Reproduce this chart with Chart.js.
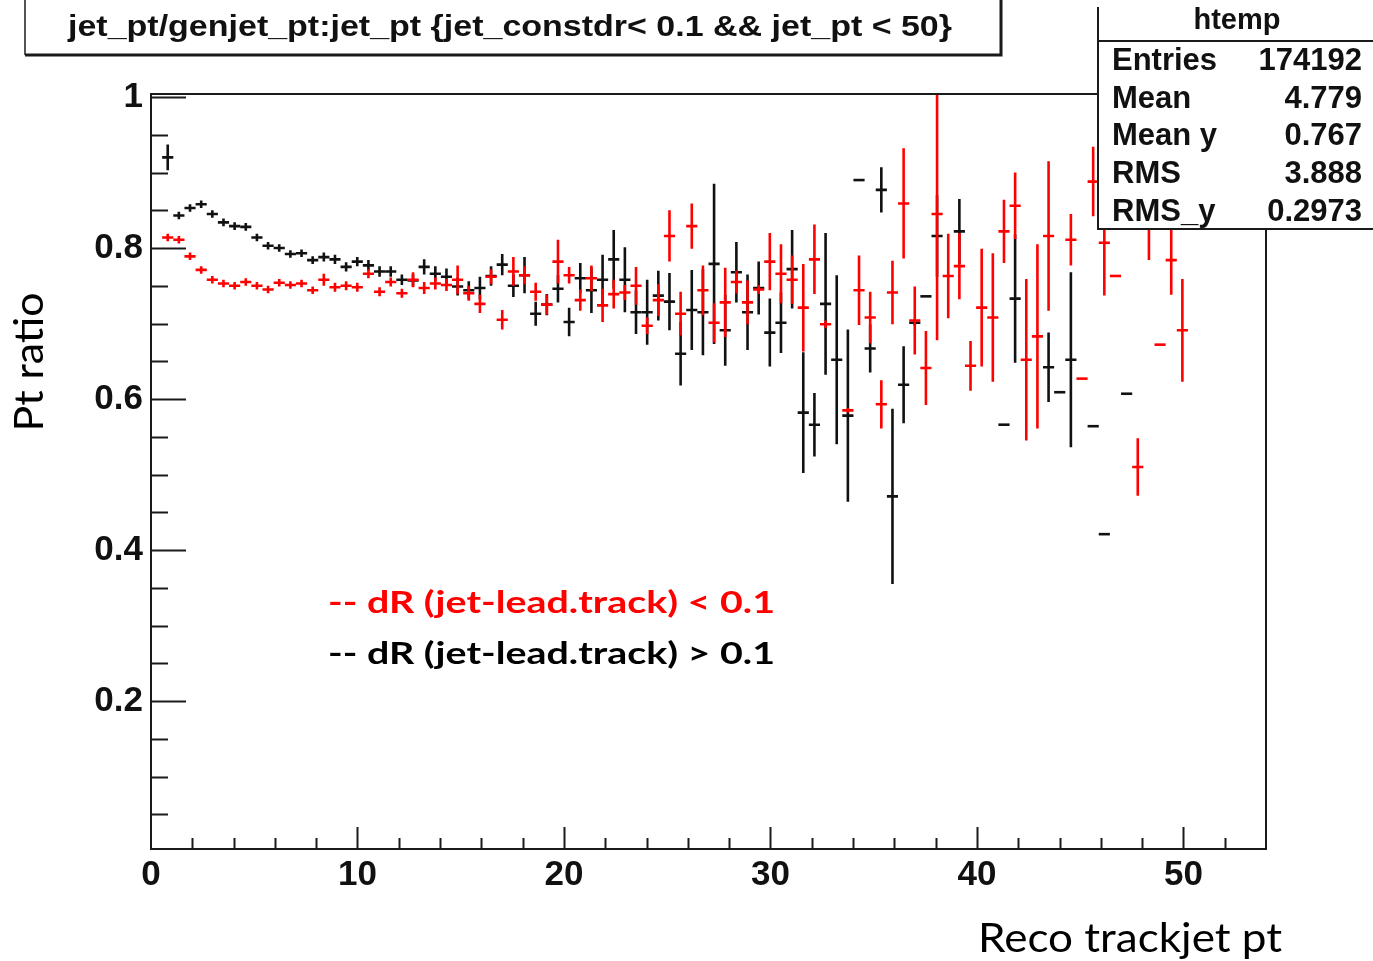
<!DOCTYPE html>
<html>
<head>
<meta charset="utf-8">
<script src="https://cdn.jsdelivr.net/npm/chart.js@4.4.1/dist/chart.umd.min.js"></script>
<style>
  html, body { margin: 0; padding: 0; background: #fff; }
  #wrap { width: 1373px; height: 961px; }
</style>
</head>
<body>
<div id="wrap"><canvas id="myChart" width="1373" height="961"></canvas></div>
<script>
// histogram binning of htemp (100 bins over 0..54), only bins up to jet_pt < 50 are filled
const nBins = 100;
const xLow = 0;
const xHigh = 54;

const xTickLabels = [0, 10, 20, 30, 40, 50];
const yTickLabels = [0.2, 0.4, 0.6, 0.8, 1];

// dR(jet-lead.track) > 0.1  (black)
const blackY = [
  null, 0.920, 0.843, 0.853, 0.858, 0.845, 0.834, 0.829, 0.828, 0.814,
  0.803, 0.800, 0.792, 0.793, 0.784, 0.788, 0.785, 0.775, 0.782, 0.777,
  0.769, 0.769, 0.758, 0.757, 0.775, 0.766, 0.762, 0.749, 0.744, 0.747,
  0.763, 0.778, 0.750, 0.764, 0.713, 0.725, 0.746, 0.702, 0.760, 0.744,
  0.758, 0.785, 0.758, 0.715, 0.715, 0.737, 0.729, 0.660, 0.718, 0.715,
  0.779, 0.691, 0.768, 0.715, 0.747, 0.688, 0.701, 0.772, 0.582, 0.566,
  0.726, 0.652, 0.578, 0.890, 0.667, 0.877, 0.471, 0.619, 0.701, 0.736,
  0.816, null, 0.822, null, null, null, 0.566, 0.733, null, null,
  0.642, 0.609, 0.652, null, 0.564, 0.421, null, 0.607, null, null,
  null, null, null
];
const blackErr = [
  0, 0.017, 0.005, 0.005, 0.005, 0.005, 0.005, 0.005, 0.005, 0.005,
  0.005, 0.005, 0.005, 0.005, 0.005, 0.006, 0.006, 0.006, 0.006, 0.007,
  0.007, 0.007, 0.007, 0.008, 0.010, 0.010, 0.011, 0.012, 0.012, 0.015,
  0.013, 0.014, 0.015, 0.024, 0.016, 0.014, 0.018, 0.019, 0.020, 0.030,
  0.033, 0.039, 0.043, 0.029, 0.043, 0.033, 0.038, 0.042, 0.053, 0.057,
  0.106, 0.047, 0.040, 0.050, 0.035, 0.045, 0.040, 0.052, 0.080, 0.042,
  0.094, 0.112, 0.114, 0, 0.032, 0.030, 0.116, 0.051, 0.004, 0,
  0.054, 0, 0.043, 0, 0, 0, 0, 0.085, 0, 0,
  0.046, 0, 0.116, 0, 0, 0, 0, 0, 0, 0,
  0, 0, 0
];

// dR(jet-lead.track) < 0.1  (red)
const redY = [
  null, 0.814, 0.811, 0.789, 0.771, 0.758, 0.753, 0.750, 0.755, 0.750,
  0.745, 0.754, 0.751, 0.753, 0.744, 0.758, 0.748, 0.750, 0.748, 0.766,
  0.742, 0.755, 0.740, 0.758, 0.747, 0.753, 0.751, 0.758, 0.740, 0.726,
  0.762, 0.705, 0.769, 0.764, 0.742, 0.725, 0.782, 0.764, 0.731, 0.760,
  0.724, 0.739, 0.741, 0.750, 0.697, 0.731, 0.816, 0.713, 0.829, 0.744,
  0.701, 0.728, 0.755, 0.728, 0.745, 0.782, 0.766, 0.758, 0.721, 0.785,
  0.699, null, 0.585, 0.744, 0.708, 0.593, 0.741, 0.859, 0.704, 0.641,
  0.845, 0.763, 0.776, 0.644, 0.721, 0.708, 0.822, 0.856, 0.652, 0.683,
  0.816, null, 0.811, 0.627, 0.888, 0.807, 0.763, null, 0.510, 0.850,
  0.672, 0.784, 0.691
];
const redErr = [
  0, 0.005, 0.005, 0.005, 0.005, 0.005, 0.005, 0.005, 0.005, 0.005,
  0.005, 0.005, 0.005, 0.005, 0.005, 0.008, 0.006, 0.006, 0.006, 0.006,
  0.006, 0.006, 0.006, 0.010, 0.008, 0.008, 0.008, 0.019, 0.010, 0.012,
  0.010, 0.013, 0.019, 0.012, 0.012, 0.013, 0.029, 0.011, 0.014, 0.017,
  0.022, 0.019, 0.010, 0.025, 0.011, 0.021, 0.034, 0.029, 0.030, 0.033,
  0.026, 0.046, 0.015, 0.029, 0.006, 0.038, 0.039, 0.032, 0.058, 0.046,
  0.005, 0, 0.003, 0.046, 0.034, 0.032, 0.042, 0.073, 0.045, 0.049,
  0.167, 0.056, 0.044, 0.033, 0.078, 0.085, 0.042, 0.044, 0.107, 0.122,
  0.099, 0, 0.034, 0, 0.046, 0.070, 0, 0, 0.038, 0.066,
  0, 0.046, 0.068
];

const titleText = 'jet_pt/genjet_pt:jet_pt {jet_constdr< 0.1 && jet_pt < 50}';
const statLabels = ['Entries', 'Mean', 'Mean y', 'RMS', 'RMS_y'];
const statValues = ['174192', '4.779', '0.767', '3.888', '0.2973'];
const legendRed = '-- dR (jet-lead.track) < 0.1';
const legendBlack = '-- dR (jet-lead.track) > 0.1';

const binW = (xHigh - xLow) / nBins;
const toPoints = (ys, errs) => ys
  .map((y, k) => y === null ? null : { x: xLow + (k + 0.5) * binW, y: y, err: errs[k] })
  .filter(p => p !== null);

const fitText = (ctx, text, x, y, width, align) => {
  const w = ctx.measureText(text).width;
  ctx.save();
  ctx.translate(x, y);
  ctx.scale(width / w, 1);
  ctx.textAlign = align;
  ctx.fillText(text, 0, 0);
  ctx.restore();
};

// ROOT style error bars: horizontal = bin width, vertical = error
const errorBars = {
  id: 'errorBars',
  afterDatasetsDraw(chart) {
    const { ctx, chartArea: a, scales: { x, y } } = chart;
    ctx.save();
    ctx.beginPath();
    ctx.rect(a.left, a.top, a.right - a.left, a.bottom - a.top);
    ctx.clip();
    ctx.lineWidth = 2.6;
    chart.data.datasets.forEach(ds => {
      ctx.strokeStyle = ds.borderColor;
      ds.data.forEach(p => {
        const px = x.getPixelForValue(p.x);
        const py = y.getPixelForValue(p.y);
        ctx.beginPath();
        ctx.moveTo(x.getPixelForValue(p.x - binW / 2), py);
        ctx.lineTo(x.getPixelForValue(p.x + binW / 2), py);
        if (p.err > 0) {
          ctx.moveTo(px, y.getPixelForValue(p.y + p.err));
          ctx.lineTo(px, y.getPixelForValue(p.y - p.err));
        }
        ctx.stroke();
      });
    });
    ctx.restore();
  }
};

const rootFrame = {
  id: 'rootFrame',
  beforeDraw(chart) {
    const ctx = chart.ctx;
    ctx.save();
    ctx.fillStyle = '#fff';
    ctx.fillRect(0, 0, chart.width, chart.height);
    ctx.restore();
  },
  afterDraw(chart) {
    const { ctx, chartArea: a, scales: { x, y } } = chart;
    ctx.save();
    ctx.strokeStyle = '#1a1a1a';
    ctx.lineWidth = 2;
    ctx.strokeRect(a.left, a.top, a.right - a.left, a.bottom - a.top);

    // inward ticks
    ctx.beginPath();
    for (let i = 1; i <= 20; i++) {
      const py = Math.round(y.getPixelForValue(i * 0.05)) + 0.5;
      const len = i % 4 === 0 ? 35 : 17;
      ctx.moveTo(a.left, py);
      ctx.lineTo(a.left + len, py);
    }
    for (let i = 1; i <= 26; i++) {
      const px = Math.round(x.getPixelForValue(i * 2)) + 0.5;
      const len = i % 5 === 0 ? 22 : 11;
      ctx.moveTo(px, a.bottom);
      ctx.lineTo(px, a.bottom - len);
    }
    ctx.stroke();

    // title box
    ctx.fillStyle = '#fff';
    ctx.fillRect(25, 0, 976, 55);
    ctx.lineWidth = 1.5;
    ctx.beginPath();
    ctx.moveTo(25, 0); ctx.lineTo(25, 55);
    ctx.stroke();
    ctx.lineWidth = 3;
    ctx.beginPath();
    ctx.moveTo(25, 55); ctx.lineTo(1001, 55); ctx.lineTo(1001, 0);
    ctx.stroke();
    ctx.fillStyle = '#111';
    ctx.font = 'bold 30px "Liberation Sans"';
    ctx.textBaseline = 'middle';
    fitText(ctx, titleText, 510, 28, 884, 'center');

    // stats box
    ctx.fillStyle = '#fff';
    ctx.fillRect(1098, 7, 275, 222);
    ctx.lineWidth = 2;
    ctx.beginPath();
    ctx.moveTo(1098, 7); ctx.lineTo(1098, 229); ctx.lineTo(1373, 229);
    ctx.moveTo(1098, 41); ctx.lineTo(1373, 41);
    ctx.stroke();
    ctx.fillStyle = '#111';
    ctx.font = 'bold 29px "Liberation Sans"';
    ctx.textAlign = 'center';
    ctx.fillText('htemp', 1237, 21);
    ctx.font = 'bold 31px "Liberation Sans"';
    const rowY = [61, 99, 136, 174, 212];
    statLabels.forEach((lab, i) => {
      ctx.textAlign = 'left';
      ctx.fillText(lab, 1112, rowY[i]);
      ctx.textAlign = 'right';
      ctx.fillText(statValues[i], 1362, rowY[i]);
    });

    // legend texts
    ctx.textBaseline = 'alphabetic';
    ctx.font = 'bold 31px Lato';
    ctx.fillStyle = '#ff0000';
    fitText(ctx, legendRed, 328, 613, 447, 'left');
    ctx.fillStyle = '#000';
    fitText(ctx, legendBlack, 328, 664, 447, 'left');

    // axis titles
    ctx.font = '40px Lato';
    ctx.fillStyle = '#000';
    fitText(ctx, 'Reco trackjet pt', 978, 952, 304, 'left');
    ctx.save();
    ctx.translate(43, 362);
    ctx.rotate(-Math.PI / 2);
    fitText(ctx, 'Pt ratio', 0, 0, 139, 'center');
    ctx.restore();
    ctx.restore();
  }
};

const tickFont = { family: 'Liberation Sans', size: 35, weight: 'bold' };

new Chart('myChart', {
  type: 'scatter',
  data: {
    datasets: [
      { label: 'dR > 0.1', data: toPoints(blackY, blackErr), borderColor: '#111111', pointRadius: 0, showLine: false },
      { label: 'dR < 0.1', data: toPoints(redY, redErr), borderColor: '#ff0000', pointRadius: 0, showLine: false }
    ]
  },
  options: {
    responsive: false,
    devicePixelRatio: 1,
    animation: false,
    events: [],
    layout: { padding: { top: 94, right: 107, left: 0, bottom: 0 } },
    plugins: { legend: { display: false }, tooltip: { enabled: false } },
    scales: {
      x: {
        type: 'linear', min: xLow, max: xHigh,
        grid: { display: false }, border: { display: false },
        afterBuildTicks: s => { s.ticks = xTickLabels.map(v => ({ value: v })); },
        afterFit: s => { s.height = 112; },
        ticks: { font: tickFont, color: '#111', padding: -3, maxRotation: 0, autoSkip: false }
      },
      y: {
        type: 'linear', min: 0.004, max: 1.004,
        grid: { display: false }, border: { display: false },
        afterBuildTicks: s => { s.ticks = yTickLabels.map(v => ({ value: v })); },
        afterFit: s => { s.width = 151; },
        ticks: { font: tickFont, color: '#111', padding: 0, callback: v => v === 1 ? '1' : v.toFixed(1) }
      }
    }
  },
  plugins: [errorBars, rootFrame]
});
</script>
</body>
</html>
